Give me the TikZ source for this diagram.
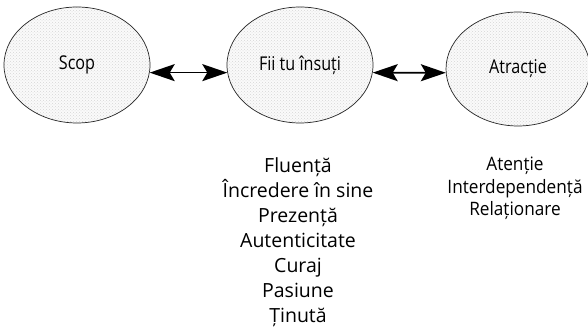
\documentclass[tikz,border=0pt]{standalone}
\usepackage{fontspec}
\setmainfont{Open Sans}
\newfontfamily\condfont[FakeStretch=0.85]{Open Sans}
\newfontfamily\semicondfont[FakeStretch=0.93]{Open Sans}
\usetikzlibrary{shapes.geometric,arrows.meta,patterns}
\begin{document}
\begin{tikzpicture}[x=1pt,y=-1pt,
  bubble/.style={ellipse,draw=black!85,line width=0.7pt,inner sep=0pt,
    minimum width=146pt,minimum height=116pt,
    preaction={fill=black!2},pattern=crosshatch dots,pattern color=black!16,
    font=\condfont\fontsize{19}{22}\selectfont},
  bigtip/.tip={Stealth[length=25pt,width=17pt,inset=5pt]},
  biarrow/.style={line width=1.7pt,bigtip-bigtip},
  leftlist/.style={align=center,inner sep=0pt,font=\fontsize{19.5}{25}\selectfont},
  rightlist/.style={align=center,inner sep=0pt,font=\semicondfont\fontsize{18.5}{22.5}\selectfont}]
\useasboundingbox (0,0) rectangle (588,336);
\node[bubble] (scop) at (77,65) {Scop};
\node[bubble] (fii) at (300,65) {Fii tu însuți};
\node[bubble,minimum width=144pt,minimum height=114pt] (atr) at (518,69) {Atracție};
\draw[biarrow] (scop.-6) -- (fii.186);
\draw[biarrow] (fii.-6) -- (atr.183);
\node[leftlist,anchor=north] (calitati) at (298,157) {Fluență\\Încredere în sine\\Prezență\\Autenticitate\\Curaj\\Pasiune\\Ținută};
\node[rightlist,anchor=north] (relatii) at (515,157) {Atenție\\Interdependență\\Relaționare};
\end{tikzpicture}
\end{document}
